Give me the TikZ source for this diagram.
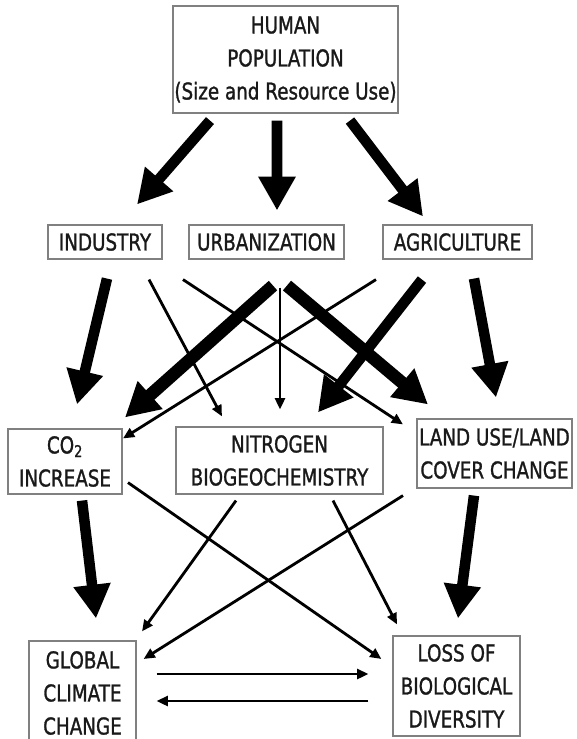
\documentclass[tikz,border=0pt]{standalone}
\usepackage{fontspec}
\setmainfont{DejaVu Sans}[FakeStretch=0.79,FakeBold=1.2]
\usetikzlibrary{arrows.meta}

\begin{document}
\begin{tikzpicture}[x=0.025cm,y=-0.025cm]
  \tikzstyle{box}=[draw=black!50,line width=0.8pt,inner sep=0pt,align=center,text=black!90,font=\fontsize{16.5}{23.5}\selectfont]
  \tikzstyle{big}=[line width=7.5pt,-{Triangle[length=24pt,width=25pt]}]
  \tikzstyle{small}=[line width=2pt,-{Triangle[length=8pt,width=7pt]}]
  \useasboundingbox (0,0) rectangle (577,739);
  \node[box,minimum width=5.625cm,minimum height=2.675cm] (hum) at (285.5,59.5) {HUMAN\\POPULATION\\(Size and Resource Use)};
  \node[box,minimum width=2.85cm,minimum height=0.85cm]   (ind) at (105,242)    {INDUSTRY};
  \node[box,minimum width=3.875cm,minimum height=0.85cm]  (urb) at (266.5,242)  {URBANIZATION};
  \node[box,minimum width=3.725cm,minimum height=0.85cm]  (agr) at (457.5,242)  {AGRICULTURE};
  \node[box,minimum width=2.85cm,minimum height=1.625cm]  (co2) at (65,461.5)   {CO\textsubscript{2}\\INCREASE};
  \node[box,minimum width=5.175cm,minimum height=1.675cm] (nit) at (279.5,460.5) {NITROGEN\\BIOGEOCHEMISTRY};
  \node[box,minimum width=3.875cm,minimum height=1.725cm] (land) at (494.5,453.5) {LAND USE/LAND\\COVER CHANGE};
  \node[box,minimum width=2.675cm,minimum height=2.6cm]   (clim) at (82.5,693)  {GLOBAL\\CLIMATE\\CHANGE};
  \node[box,minimum width=3.175cm,minimum height=2.5cm]   (bio) at (456.5,686)  {LOSS OF\\BIOLOGICAL\\DIVERSITY};
  % human impacts
  \draw[big] ([shift={(-75.5,7)}]hum.south) -- ([shift={(32,-20)}]ind.north);
  \draw[big] ([shift={(-8.5,7)}]hum.south) -- ([shift={(10.5,-14)}]urb.north);
  \draw[big] ([shift={(64.5,7)}]hum.south) -- ([shift={(-34.5,-8)}]agr.north);
  % middle row
  \draw[big] ([shift={(2,19)}]ind.south) -- ([shift={(12,-24)}]co2.north);
  \draw[small] ([shift={(44,20)}]ind.south) -- ([shift={(-57.5,-10)}]nit.north);
  \draw[small] ([shift={(78,20)}]ind.south) -- ([shift={(-91.5,6)}]land.north);
  \draw[big,line width=9pt] ([shift={(6.5,26)}]urb.south) -- ([shift={(60,-11)}]co2.north);
  \draw[small] ([shift={(13.5,28)}]urb.south) -- ([shift={(0.5,-17)}]nit.north);
  \draw[big,line width=9pt] ([shift={(20.5,26)}]urb.south) -- ([shift={(-66.5,-14)}]land.north);
  \draw[small] ([shift={(-81.5,20)}]agr.south) -- ([shift={(58,10)}]co2.north);
  \draw[big] ([shift={(-35.5,20)}]agr.south) -- ([shift={(38.5,-14)}]nit.north);
  \draw[big] ([shift={(16.5,19)}]agr.south) -- ([shift={(1.5,-21)}]land.north);
  % bottom row
  \draw[big] ([shift={(17,6)}]co2.south) -- ([shift={(13.5,-22)}]clim.north);
  \draw[small] ([shift={(63,-12)}]co2.south) -- ([shift={(-11,-27)}]bio.west);
  \draw[small] ([shift={(-43.5,6)}]nit.south) -- ([shift={(59.5,-9)}]clim.north);
  \draw[small] ([shift={(53.5,6)}]nit.south) -- ([shift={(-59.5,-11)}]bio.north);
  \draw[small] ([shift={(-91.5,7)}]land.south) -- ([shift={(7,-34)}]clim.east);
  \draw[big] ([shift={(-20.5,7)}]land.south) -- ([shift={(1.5,-17)}]bio.north);
  \draw[small] ([shift={(20,-19)}]clim.east) -- ([shift={(-24,-12)}]bio.west);
  \draw[small] ([shift={(-24,15)}]bio.west) -- ([shift={(20,8)}]clim.east);
\end{tikzpicture}
\end{document}
